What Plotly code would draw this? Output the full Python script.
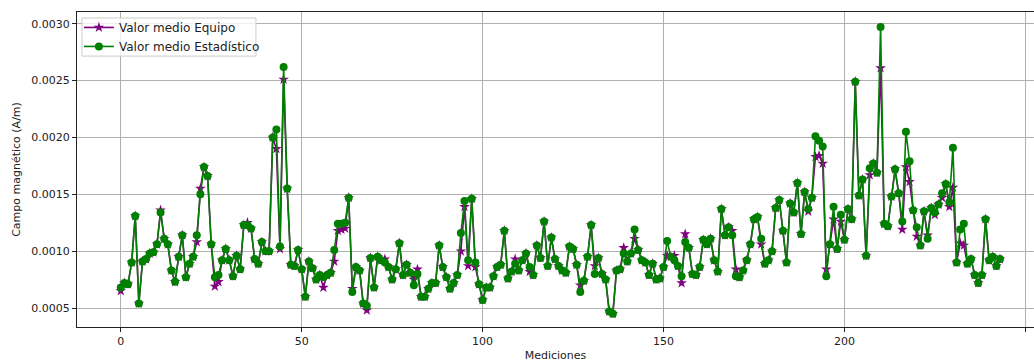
import plotly.graph_objects as go

# Mean magnetic field per measurement (A/m)
valor_estadistico = [
    0.00068, 0.00072, 0.00071, 0.00090, 0.00131, 0.00054, 0.00091, 0.00093, 0.00098, 0.00099,
    0.00106, 0.00134, 0.00111, 0.00106, 0.00083, 0.00073, 0.00095, 0.00114, 0.00077, 0.00089,
    0.00095, 0.00114, 0.00150, 0.00174, 0.00166, 0.00106, 0.00077, 0.00079, 0.00092, 0.00102,
    0.00092, 0.00078, 0.00096, 0.00084, 0.00123, 0.00123, 0.00120, 0.00093, 0.00089, 0.00108,
    0.00100, 0.00100, 0.00200, 0.00207, 0.00104, 0.00262, 0.00155, 0.00088, 0.00087, 0.00101,
    0.00084, 0.00060, 0.00091, 0.00085, 0.00075, 0.00079, 0.00077, 0.00079, 0.00081, 0.00101,
    0.00124, 0.00124, 0.00125, 0.00147, 0.00064, 0.00086, 0.00083, 0.00054, 0.00052, 0.00094,
    0.00068, 0.00095, 0.00092, 0.00090, 0.00086, 0.00075, 0.00084, 0.00107, 0.00079, 0.00088,
    0.00081, 0.00070, 0.00080, 0.00060, 0.00060, 0.00067, 0.00072, 0.00072, 0.00105, 0.00086,
    0.00077, 0.00067, 0.00072, 0.00079, 0.00116, 0.00144, 0.00092, 0.00146, 0.00090, 0.00071,
    0.00057, 0.00068, 0.00068, 0.00078, 0.00086, 0.00088, 0.00118, 0.00076, 0.00082, 0.00089,
    0.00083, 0.00092, 0.00098, 0.00086, 0.00079, 0.00105, 0.00094, 0.00126, 0.00087, 0.00112,
    0.00093, 0.00087, 0.00083, 0.00081, 0.00104, 0.00102, 0.00088, 0.00064, 0.00074, 0.00095,
    0.00123, 0.00080, 0.00094, 0.00080, 0.00075, 0.00047, 0.00045, 0.00083, 0.00084, 0.00098,
    0.00091, 0.00098, 0.00119, 0.00101, 0.00092, 0.00090, 0.00079, 0.00089, 0.00075, 0.00076,
    0.00086, 0.00109, 0.00095, 0.00092, 0.00087, 0.00078, 0.00108, 0.00103, 0.00080, 0.00079,
    0.00086, 0.00110, 0.00106, 0.00111, 0.00092, 0.00082, 0.00137, 0.00114, 0.00121, 0.00114,
    0.00078, 0.00077, 0.00083, 0.00092, 0.00106, 0.00128, 0.00130, 0.00111, 0.00089, 0.00092,
    0.00100, 0.00138, 0.00145, 0.00118, 0.00090, 0.00142, 0.00134, 0.00160, 0.00115, 0.00152,
    0.00137, 0.00147, 0.00201, 0.00197, 0.00192, 0.00078, 0.00106, 0.00139, 0.00102, 0.00132,
    0.00110, 0.00137, 0.00128, 0.00249, 0.00149, 0.00163, 0.00096, 0.00173, 0.00177, 0.00169,
    0.00297, 0.00124, 0.00122, 0.00148, 0.00172, 0.00151, 0.00126, 0.00205, 0.00179, 0.00136,
    0.00121, 0.00105, 0.00135, 0.00111, 0.00138, 0.00134, 0.00141, 0.00151, 0.00159, 0.00143,
    0.00191, 0.00090, 0.00119, 0.00124, 0.00089, 0.00093, 0.00079, 0.00072, 0.00079, 0.00128,
    0.00092, 0.00095, 0.00087, 0.00093,
]

valor_equipo = [
    0.00065, 0.00072, 0.00071, 0.00090, 0.00131, 0.00054, 0.00091, 0.00093, 0.00098, 0.00099,
    0.00106, 0.00136, 0.00111, 0.00106, 0.00083, 0.00073, 0.00095, 0.00114, 0.00077, 0.00089,
    0.00095, 0.00108, 0.00155, 0.00174, 0.00166, 0.00106, 0.00069, 0.00073, 0.00092, 0.00102,
    0.00092, 0.00078, 0.00096, 0.00084, 0.00123, 0.00125, 0.00120, 0.00093, 0.00089, 0.00108,
    0.00100, 0.00100, 0.00200, 0.00190, 0.00102, 0.00251, 0.00155, 0.00088, 0.00087, 0.00101,
    0.00084, 0.00060, 0.00091, 0.00085, 0.00075, 0.00079, 0.00068, 0.00079, 0.00081, 0.00091,
    0.00118, 0.00119, 0.00120, 0.00147, 0.00067, 0.00086, 0.00083, 0.00054, 0.00048, 0.00094,
    0.00068, 0.00095, 0.00092, 0.00093, 0.00086, 0.00075, 0.00084, 0.00107, 0.00079, 0.00088,
    0.00081, 0.00075, 0.00084, 0.00060, 0.00060, 0.00067, 0.00072, 0.00072, 0.00105, 0.00086,
    0.00077, 0.00067, 0.00072, 0.00079, 0.00100, 0.00139, 0.00087, 0.00146, 0.00086, 0.00071,
    0.00057, 0.00068, 0.00068, 0.00078, 0.00086, 0.00088, 0.00118, 0.00076, 0.00082, 0.00093,
    0.00083, 0.00092, 0.00098, 0.00082, 0.00079, 0.00105, 0.00094, 0.00126, 0.00087, 0.00112,
    0.00093, 0.00087, 0.00083, 0.00081, 0.00104, 0.00102, 0.00088, 0.00070, 0.00074, 0.00095,
    0.00123, 0.00087, 0.00094, 0.00080, 0.00075, 0.00047, 0.00045, 0.00083, 0.00084, 0.00103,
    0.00091, 0.00098, 0.00111, 0.00101, 0.00092, 0.00090, 0.00079, 0.00089, 0.00075, 0.00076,
    0.00086, 0.00096, 0.00095, 0.00096, 0.00087, 0.00072, 0.00115, 0.00103, 0.00080, 0.00079,
    0.00086, 0.00110, 0.00106, 0.00111, 0.00092, 0.00082, 0.00137, 0.00114, 0.00121, 0.00118,
    0.00084, 0.00077, 0.00083, 0.00092, 0.00106, 0.00128, 0.00130, 0.00106, 0.00089, 0.00092,
    0.00100, 0.00138, 0.00145, 0.00118, 0.00090, 0.00142, 0.00134, 0.00160, 0.00115, 0.00152,
    0.00135, 0.00147, 0.00183, 0.00184, 0.00177, 0.00084, 0.00106, 0.00128, 0.00102, 0.00126,
    0.00110, 0.00137, 0.00128, 0.00249, 0.00149, 0.00163, 0.00096, 0.00167, 0.00177, 0.00169,
    0.00261, 0.00124, 0.00122, 0.00148, 0.00172, 0.00151, 0.00119, 0.00174, 0.00161, 0.00136,
    0.00113, 0.00105, 0.00135, 0.00114, 0.00138, 0.00132, 0.00141, 0.00147, 0.00159, 0.00139,
    0.00156, 0.00090, 0.00107, 0.00105, 0.00089, 0.00093, 0.00079, 0.00072, 0.00079, 0.00128,
    0.00092, 0.00095, 0.00087, 0.00093,
]

mediciones = list(range(len(valor_estadistico)))

y_ticks = [0.0005, 0.0010, 0.0015, 0.0020, 0.0025, 0.0030]
x_ticks = [0, 50, 100, 150, 200, 250]

font = "DejaVu Sans, Liberation Sans, sans-serif"

fig = go.Figure()
fig.add_trace(go.Scatter(
    x=mediciones, y=valor_equipo, mode="lines+markers",
    name="Valor medio Equipo",
    line=dict(color="#800080", width=1.6),
    marker=dict(symbol="star", size=8, color="#800080"),
))
fig.add_trace(go.Scatter(
    x=mediciones, y=valor_estadistico, mode="lines+markers",
    name="Valor medio Estadístico",
    line=dict(color="#008000", width=1.6),
    marker=dict(symbol="circle", size=8, color="#008000"),
))

# legend frame (semi-transparent white box behind the legend entries)
fig.add_shape(
    type="rect", xref="paper", yref="paper",
    x0=0.0052, x1=0.187, y0=0.860, y1=0.981,
    fillcolor="rgba(255,255,255,0.8)", line=dict(color="#cccccc", width=1),
    layer="above",
)

fig.update_layout(
    width=1034, height=362,
    margin=dict(l=77, r=0, t=12, b=35),
    paper_bgcolor="white", plot_bgcolor="white",
    font=dict(family=font, size=11, color="#222"),
    showlegend=True,
    legend=dict(
        x=0.002, y=0.997, xanchor="left", yanchor="top",
        bgcolor="rgba(0,0,0,0)", borderwidth=0,
        font=dict(size=12, color="#222"), tracegroupgap=0, itemwidth=30,
    ),
)

fig.update_xaxes(
    range=[-12.1, 252.4], tickvals=x_ticks, ticktext=[str(v) for v in x_ticks],
    showgrid=True, gridcolor="#b0b0b0", gridwidth=1, zeroline=False,
    showline=True, linecolor="#222", linewidth=1, mirror=True,
    ticks="outside", ticklen=4, tickcolor="#222",
    title=dict(text="Mediciones", standoff=4, font=dict(size=11)),
)
fig.update_yaxes(
    range=[0.000333, 0.003103], tickvals=y_ticks,
    ticktext=[f"{v:.4f}" for v in y_ticks],
    showgrid=True, gridcolor="#b0b0b0", gridwidth=1, zeroline=False,
    showline=True, linecolor="#222", linewidth=1, mirror=False,
    ticks="outside", ticklen=4, tickcolor="#222",
    title=dict(text="Campo magnético (A/m)", standoff=8, font=dict(size=11)),
)

fig.write_html("out.html")
